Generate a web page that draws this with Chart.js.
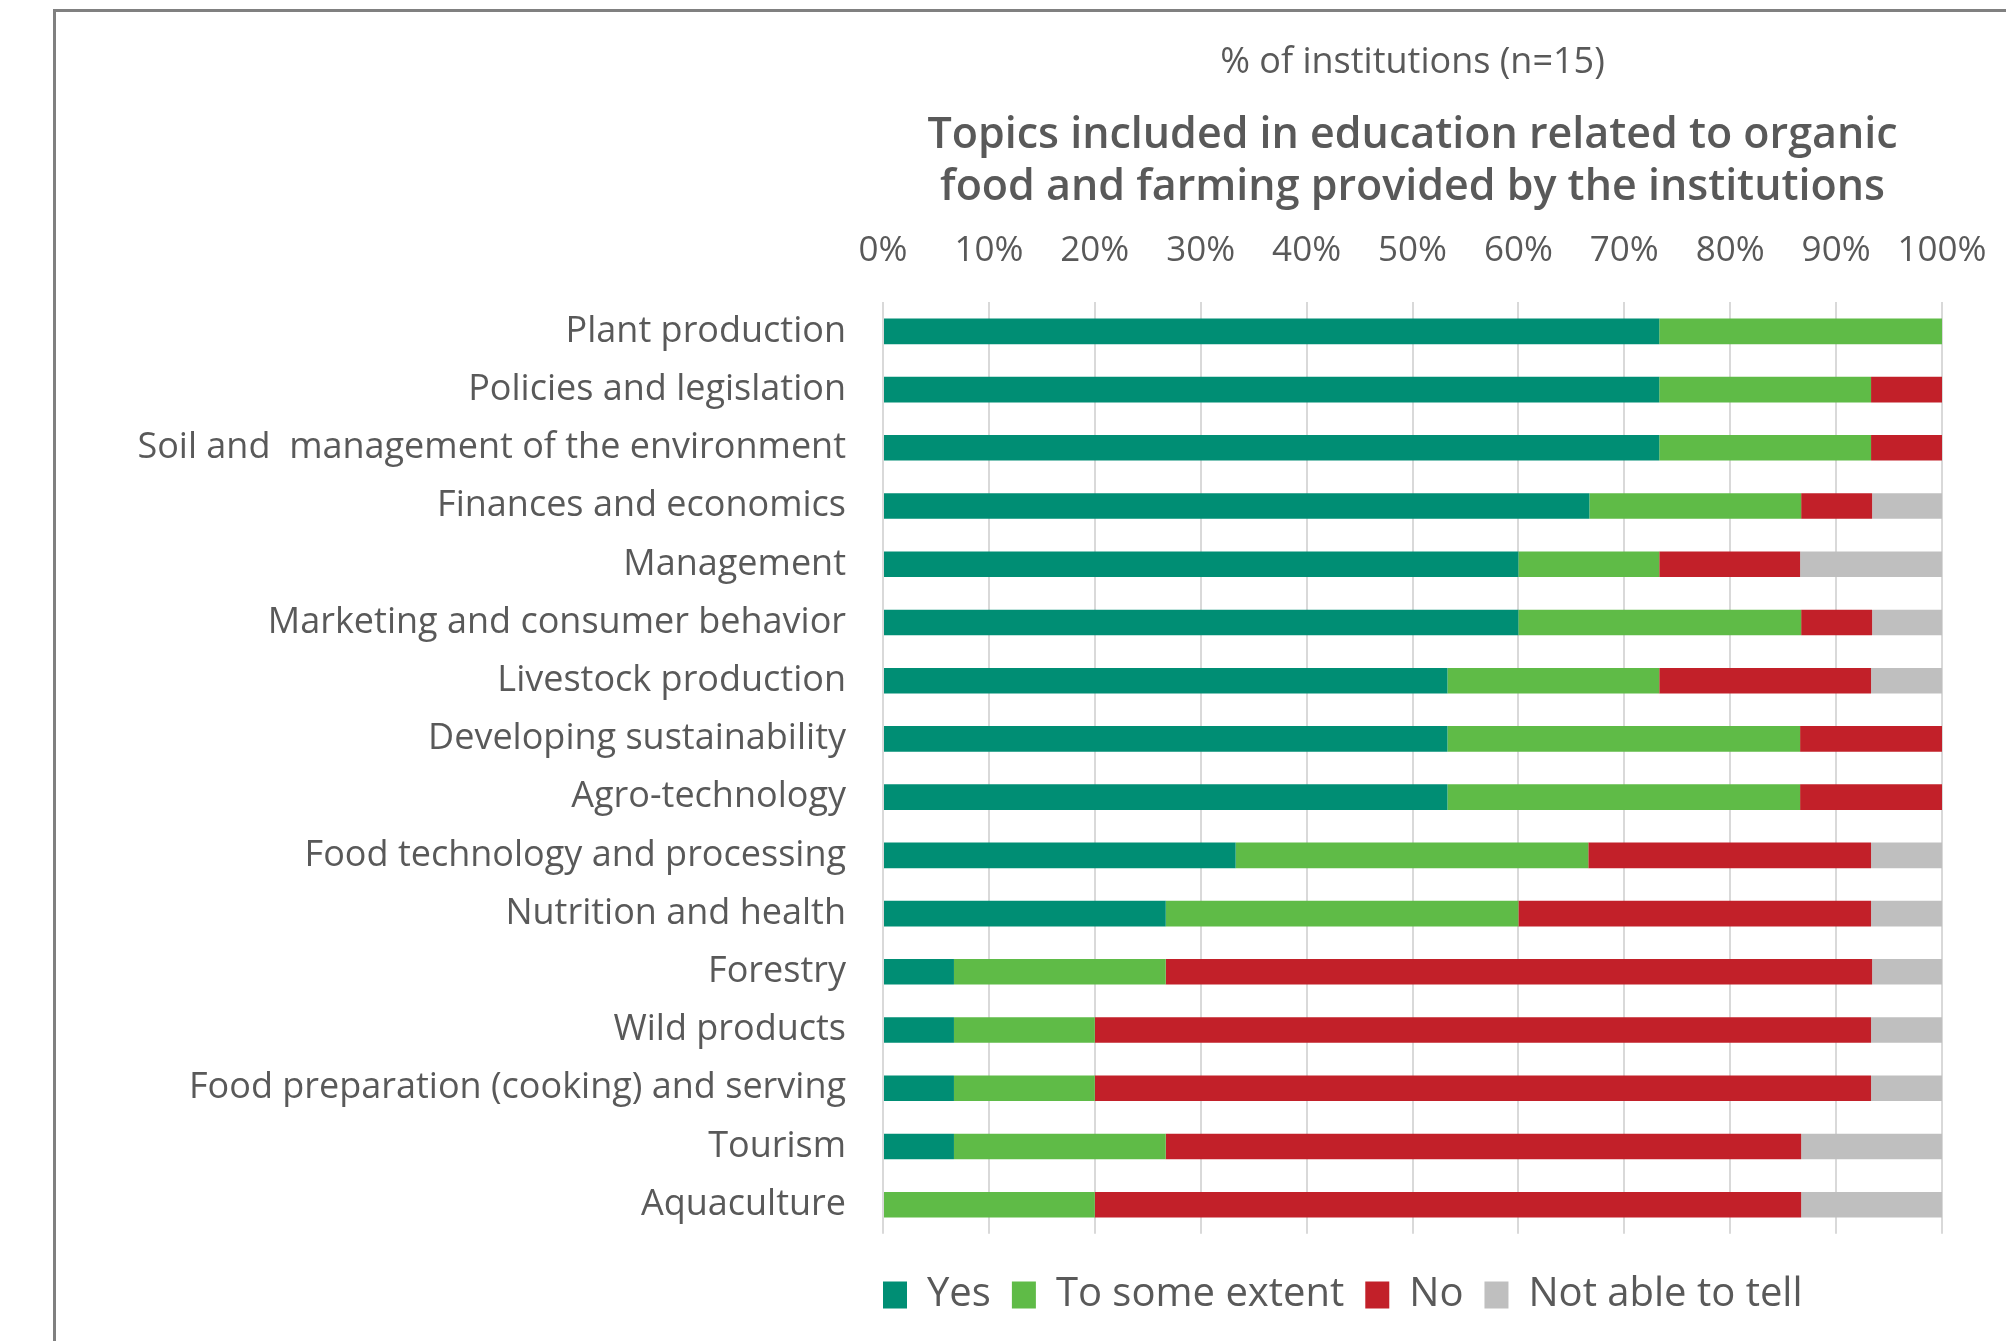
<!DOCTYPE html>
<html><head><meta charset="utf-8">
<script src="https://cdn.jsdelivr.net/npm/chart.js@4.4.1/dist/chart.umd.min.js"></script>
<style>
html,body{margin:0;padding:0;background:#fff;}
#wrap{position:relative;width:2006px;height:1341px;overflow:hidden;}
#c{position:absolute;left:0;top:0;}
#frame{position:absolute;left:53px;top:9px;right:-10px;bottom:-10px;border-left:3px solid #808080;border-top:3px solid #808080;pointer-events:none;}
</style></head><body>
<div id="wrap"><canvas id="c" width="2006" height="1341" style="width:2006px;height:1341px"></canvas><div id="frame"></div></div>
<script>
const categories = ["Plant production","Policies and legislation","Soil and  management of the environment","Finances and economics","Management","Marketing and consumer behavior","Livestock production","Developing sustainability","Agro-technology","Food technology and processing","Nutrition and health","Forestry","Wild products","Food preparation (cooking) and serving","Tourism","Aquaculture"];
const yesValues  = [73.3,73.3,73.3,66.7,60,60,53.3,53.3,53.3,33.3,26.7,6.7,6.7,6.7,6.7,0];
const someValues = [26.7,20,20,20,13.3,26.7,20,33.3,33.3,33.3,33.3,20,13.3,13.3,20,20];
const noValues   = [0,6.7,6.7,6.7,13.3,6.7,20,13.4,13.4,26.7,33.3,66.7,73.3,73.3,60,66.7];
const naValues   = [0,0,0,6.7,13.4,6.7,6.7,0,0,6.7,6.7,6.7,6.7,6.7,13.3,13.3];
const seriesNames = ["Yes","To some extent","No","Not able to tell"];
const subtitleText = "% of institutions (n=15)";
const titleLines = ["Topics included in education related to organic","food and farming provided by the institutions"];

const FONT = "'Open Sans', sans-serif";
const TXT = "#595959";
const colors = ["#008e74","#5fbb47","#c22029","#bfbfbf"];
const allValues = [yesValues, someValues, noValues, naValues];

const legendShift = {
  id: 'legendShift',
  afterLayout(chart) {
    const l = chart.legend;
    if (l) { l.left -= 21; l.right -= 21; }
  }
};

try {
new Chart(document.getElementById('c'), {
  type: 'bar',
  data: {
    labels: categories,
    datasets: allValues.map((v, i) => ({
      label: seriesNames[i], data: v, backgroundColor: colors[i],
      borderWidth: 0, barPercentage: 0.44, categoryPercentage: 1
    }))
  },
  plugins: [legendShift],
  options: {
    indexAxis: 'y',
    responsive: false,
    devicePixelRatio: 1,
    animation: false,
    layout: { padding: { left: 0, right: 64, top: 0, bottom: 16 } },
    scales: {
      x: {
        position: 'top', stacked: true, min: 0, max: 100,
        ticks: { stepSize: 10, callback: v => v + '%', color: TXT, font: { family: FONT, size: 35 }, padding: 30 },
        grid: { color: '#d9d9d9', lineWidth: 2, drawTicks: false },
        border: { display: false },
        afterFit: function(s) { s.paddingLeft = 0; s.paddingRight = 0; }
      },
      y: {
        stacked: true,
        ticks: { color: TXT, font: { family: FONT, size: 36 }, padding: 37 },
        grid: { display: false, drawTicks: false },
        border: { display: false },
        afterFit: function(s) { s.width = 883; }
      }
    },
    plugins: {
      tooltip: { enabled: false },
      title: {
        display: true, text: subtitleText, weight: 3000, fullSize: false,
        color: TXT, font: { family: FONT, size: 36, weight: 'normal', lineHeight: 1.2 },
        padding: { top: 41, bottom: 26 }
      },
      subtitle: {
        display: true, text: titleLines, weight: 2000, fullSize: false,
        color: TXT, font: { family: FONT, size: 43, weight: 600, lineHeight: 1.21 },
        padding: { top: 0, bottom: -14 }
      },
      legend: {
        position: 'bottom', align: 'start', fullSize: false,
        title: { display: true, text: ' ', font: { size: 1 }, padding: { top: 19, bottom: 0 } },
        labels: { boxWidth: 24, boxHeight: 27, color: TXT, font: { family: FONT, size: 40 }, padding: 21 }
      }
    }
  }
});
} catch (e) { document.body.insertAdjacentHTML('beforeend', '<pre>' + e.stack + '</pre>'); console.error(e); }
</script>
</body></html>
